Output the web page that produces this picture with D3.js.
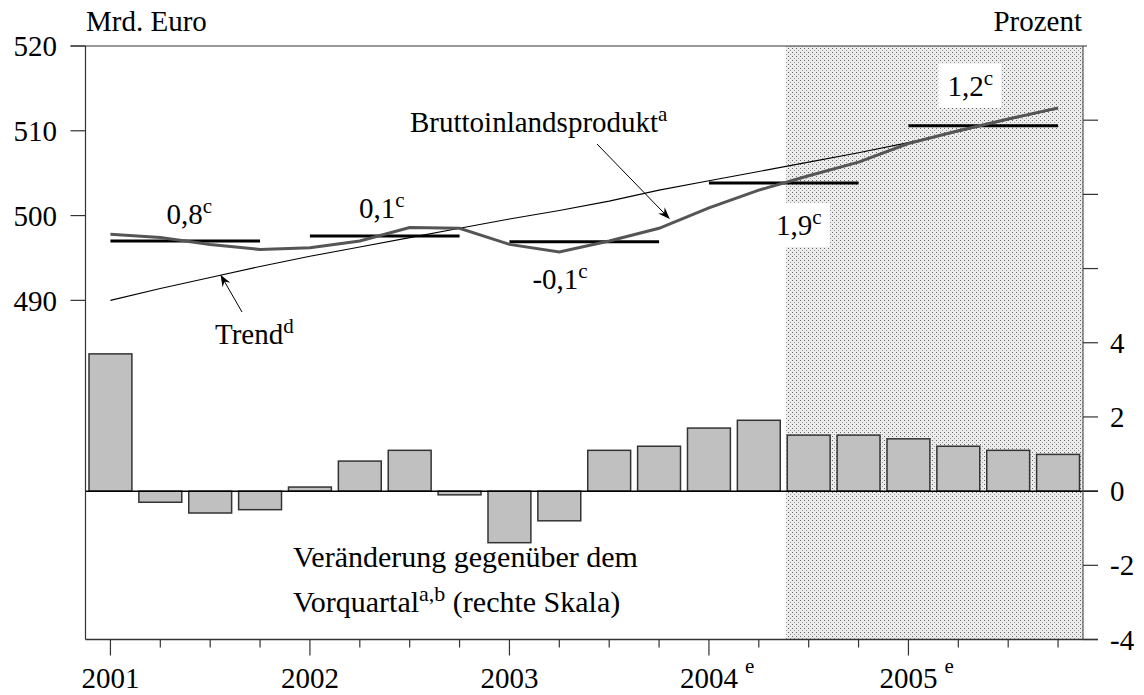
<!DOCTYPE html>
<html><head><meta charset="utf-8">
<script src="https://cdn.jsdelivr.net/npm/d3@7"></script>
<style>
html,body{margin:0;padding:0;background:#fff;}
svg{display:block;font-family:"Liberation Serif","Times New Roman",serif;}
</style></head>
<body><svg id="chart" width="1144" height="695"></svg>
<script>
const quarters = ["2001Q1","2001Q2","2001Q3","2001Q4","2002Q1","2002Q2","2002Q3","2002Q4",
  "2003Q1","2003Q2","2003Q3","2003Q4","2004Q1","2004Q2","2004Q3","2004Q4",
  "2005Q1","2005Q2","2005Q3","2005Q4"];
const gdp = [497.8,497.4,496.6,496.0, 496.2,497.0,498.6,498.5, 496.6,495.7,497.0,498.5,
  500.9,503.0,504.7,506.3, 508.5,510.0,511.4,512.7];
const trend = [490.0,491.4,492.7,494.0, 495.2,496.3,497.4,498.5, 499.6,500.6,501.7,503.0,
  504.1,505.2,506.3,507.4, 508.6,509.9,511.3,512.6];
const change = [3.7,-0.3,-0.59,-0.5, 0.11,0.81,1.1,-0.1, -1.39,-0.8,1.1,1.21,
  1.7,1.91,1.51,1.51, 1.41,1.21,1.1,0.99];
const years = ["2001","2002","2003","2004","2005"];
const yearSup = ["","","","e","e"];
const annualMean = [497.0,497.6,496.9,503.85,510.6];
const annualLabel = ["0,8","0,1","-0,1","1,9","1,2"];
const leftTicks = [490,500,510,520];
const rightTicks = [-4,-2,0,2,4,6,8,10];
const rightTickLabels = [-4,-2,0,2,4];
const forecastStart = "2004Q3";

const svg = d3.select("#chart");
const L = 85.5, R = 1083, T = 46, B = 639.5;
const FS = 29, SUP = 21;

const x = d3.scaleBand().domain(quarters).range([L, R]).paddingInner(0.14).paddingOuter(0.07);
const xc = q => x(q) + x.bandwidth()/2;
const yL = d3.scaleLinear().domain([450,520]).range([B, T]);
const yR = d3.scaleLinear().domain([-4,12]).range([B, T]);

// pattern
const defs = svg.append("defs");
const pat = defs.append("pattern").attr("id","dots").attr("patternUnits","userSpaceOnUse")
  .attr("width",4).attr("height",4);
pat.append("rect").attr("width",4).attr("height",4).attr("fill","#ececec");
pat.append("rect").attr("x",0).attr("y",0).attr("width",1).attr("height",1).attr("fill","#666");
pat.append("rect").attr("x",2).attr("y",2).attr("width",1).attr("height",1).attr("fill","#999");
const mk = defs.append("marker").attr("id","arr").attr("viewBox","0 -5 12 10")
  .attr("refX",11).attr("refY",0).attr("markerWidth",12).attr("markerHeight",10)
  .attr("markerUnits","userSpaceOnUse").attr("orient","auto");
mk.append("path").attr("d","M0,-4.5L12,0L0,4.5L4,0Z").attr("fill","#000");

// forecast shading
const step = x.step();
const shadeX = x(forecastStart) - (step - x.bandwidth())/2 + 2;
svg.append("rect").attr("x",shadeX).attr("y",T).attr("width",R-shadeX).attr("height",B-T)
  .attr("fill","url(#dots)");

// bars
svg.append("g").selectAll("rect").data(quarters).join("rect")
  .attr("x", q => x(q))
  .attr("width", x.bandwidth())
  .attr("y", (q,i) => yR(Math.max(0, change[i])))
  .attr("height", (q,i) => Math.abs(yR(change[i]) - yR(0)))
  .attr("fill","#c0c0c0").attr("stroke","#333").attr("stroke-width",1.5);

// zero line
svg.append("line").attr("x1",L).attr("x2",R+15).attr("y1",yR(0)).attr("y2",yR(0))
  .attr("stroke","#000").attr("stroke-width",1.5);

// frame lines
const axisColor = "#333";
svg.append("line").attr("x1",L-15).attr("x2",R+4).attr("y1",T).attr("y2",T).attr("stroke",axisColor).attr("stroke-width",1.2);
svg.append("line").attr("x1",L).attr("x2",R+15).attr("y1",B).attr("y2",B).attr("stroke",axisColor).attr("stroke-width",1.5);
svg.append("line").attr("x1",L).attr("x2",L).attr("y1",T).attr("y2",B).attr("stroke",axisColor).attr("stroke-width",1.2);
svg.append("line").attr("x1",R).attr("x2",R).attr("y1",T).attr("y2",B).attr("stroke","#555").attr("stroke-width",1.2);

// left axis
const gl = svg.append("g");
gl.selectAll("line").data(leftTicks).join("line")
  .attr("x1",L-15).attr("x2",L).attr("y1",d=>yL(d)).attr("y2",d=>yL(d))
  .attr("stroke",axisColor).attr("stroke-width",1.2);
gl.selectAll("text").data(leftTicks).join("text")
  .attr("x",57).attr("y",d=>yL(d)).attr("dy","0.35em").attr("text-anchor","end")
  .attr("font-size",FS).text(d=>d);

// right axis
const gr = svg.append("g");
gr.selectAll("line").data(rightTicks).join("line")
  .attr("x1",R).attr("x2",R+15).attr("y1",d=>yR(d)).attr("y2",d=>yR(d))
  .attr("stroke",axisColor).attr("stroke-width",1.2);
gr.selectAll("text").data(rightTickLabels).join("text")
  .attr("x",1110).attr("y",d=>yR(d)).attr("dy","0.35em").attr("text-anchor","start")
  .attr("font-size",FS).text(d=>d);

// bottom ticks
const gb = svg.append("g");
gb.selectAll("line").data(quarters).join("line")
  .attr("x1",q=>xc(q)).attr("x2",q=>xc(q)).attr("y1",B)
  .attr("y2",q=>q.endsWith("Q1") ? B+16 : B+8)
  .attr("stroke",axisColor).attr("stroke-width",1.2);
years.forEach((yr,i) => {
  const cx = xc(yr+"Q1");
  gb.append("text").attr("x",cx).attr("y",688).attr("text-anchor","middle")
    .attr("font-size",FS).text(yr);
  if (yearSup[i]) gb.append("text").attr("x",cx+36).attr("y",673).attr("text-anchor","start")
    .attr("font-size",SUP).text(yearSup[i]);
});

// annual mean lines
years.forEach((yr,i) => {
  svg.append("line").attr("x1",xc(yr+"Q1")).attr("x2",xc(yr+"Q4"))
    .attr("y1",yL(annualMean[i])).attr("y2",yL(annualMean[i]))
    .attr("stroke","#000").attr("stroke-width",3);
});

// trend
svg.append("path").datum(trend)
  .attr("d", d3.line().x((d,i)=>xc(quarters[i])).y(d=>yL(d)))
  .attr("fill","none").attr("stroke","#000").attr("stroke-width",1.1);
// gdp
svg.append("path").datum(gdp)
  .attr("d", d3.line().x((d,i)=>xc(quarters[i])).y(d=>yL(d)))
  .attr("fill","none").attr("stroke","#555").attr("stroke-width",3);

// annual labels
const labOff = [[56,-17.5,false],[49,-18,false],[23,47,false],[67,52,true],[39,-30,true]];
years.forEach((yr,i) => {
  const lx = xc(yr+"Q1") + labOff[i][0];
  const ly = yL(annualMean[i]) + labOff[i][1];
  const g = svg.append("g");
  const t = g.append("text").attr("x",lx).attr("y",ly).attr("font-size",FS);
  t.append("tspan").text(annualLabel[i]);
  t.append("tspan").attr("font-size",SUP).attr("dy",-11).text("c");
  if (labOff[i][2]) {
    const bb = t.node().getBBox();
    g.insert("rect","text").attr("x",bb.x-9).attr("y",bb.y-2).attr("width",bb.width+17)
      .attr("height",bb.height+8).attr("fill","#fff");
  }
});

// series labels
const t1 = svg.append("text").attr("x",410).attr("y",131.5).attr("font-size",FS);
t1.append("tspan").text("Bruttoinlandsprodukt");
t1.append("tspan").attr("font-size",SUP).attr("dy",-11).text("a");
svg.append("line").attr("x1",597).attr("y1",144).attr("x2",xc("2003Q4")+10).attr("y2",yL(gdp[11])-10)
  .attr("stroke","#000").attr("stroke-width",1).attr("marker-end","url(#arr)");

const t2 = svg.append("text").attr("x",215).attr("y",344).attr("font-size",FS);
t2.append("tspan").text("Trend");
t2.append("tspan").attr("font-size",SUP).attr("dy",-11).text("d");
svg.append("line").attr("x1",242).attr("y1",312).attr("x2",221).attr("y2",275.5)
  .attr("stroke","#000").attr("stroke-width",1).attr("marker-end","url(#arr)");

svg.append("text").attr("x",293).attr("y",566.5).attr("font-size",30).text("Veränderung gegenüber dem");
const t3 = svg.append("text").attr("x",293).attr("y",611.5).attr("font-size",30);
t3.append("tspan").text("Vorquartal");
t3.append("tspan").attr("font-size",SUP+1).attr("dy",-11).text("a,b");
t3.append("tspan").attr("dy",11).text(" (rechte Skala)");

// axis titles
svg.append("text").attr("x",86).attr("y",31).attr("font-size",FS).text("Mrd. Euro");
svg.append("text").attr("x",1082).attr("y",31).attr("font-size",FS).attr("text-anchor","end").text("Prozent");
</script></body></html>
